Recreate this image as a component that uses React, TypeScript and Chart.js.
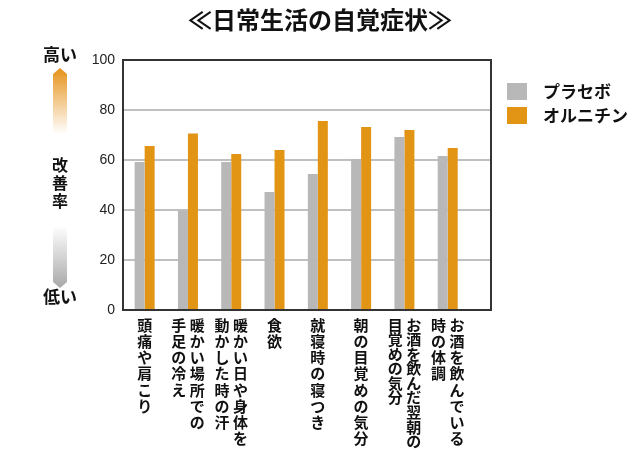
import React, { useEffect, useRef } from "react";
import { Chart, registerables } from "chart.js";

Chart.register(...registerables);

const TITLE = "≪日常生活の自覚症状≫";
const SERIES_NAMES = ["プラセボ", "オルニチン"];
// Each category label is a list of vertical columns, from right to left
const CATEGORIES: string[][] = [
  ["頭痛や肩こり"],
  ["暖かい場所での", "手足の冷え"],
  ["暖かい日や身体を", "動かした時の汗"],
  ["食欲"],
  ["就寝時の寝つき"],
  ["朝の目覚めの気分"],
  ["お酒を飲んだ翌朝の", "目覚めの気分"],
  ["お酒を飲んでいる", "時の体調"],
];
const PLACEBO = [59.2, 39.8, 59.2, 47.2, 54.4, 60.4, 69.2, 61.6];
const ORNITHINE = [65.6, 70.6, 62.4, 64.0, 75.6, 73.2, 72.0, 64.8];
const Y_TICKS = [0, 20, 40, 60, 80, 100];
const AXIS_HIGH = "高い";
const AXIS_LOW = "低い";
const AXIS_NAME = "改善率";

const GRAY = "#b8b8b8";
const ORANGE = "#e29415";
const JP = '"Noto Sans CJK JP", "Noto Sans", sans-serif';

const decorPlugin = {
  id: "decor",
  afterDatasetsDraw(chart: any) {
    const { ctx, chartArea } = chart;
    ctx.save();
    ctx.strokeStyle = "#333333";
    ctx.lineWidth = 2;
    ctx.strokeRect(
      chartArea.left,
      chartArea.top,
      chartArea.right - chartArea.left,
      chartArea.bottom - chartArea.top
    );
    ctx.restore();
  },
  afterDraw(chart: any) {
    const { ctx, chartArea } = chart;
    const xs = chart.scales.x;
    ctx.save();
    ctx.fillStyle = "#111111";
    ctx.textAlign = "center";
    ctx.textBaseline = "middle";

    // Title
    ctx.font = `bold 24px ${JP}`;
    ctx.fillText(TITLE, 320, 20);

    // Y-axis annotation
    const ax = 60;
    ctx.font = `bold 17px ${JP}`;
    ctx.fillText(AXIS_HIGH, ax, 55);
    ctx.fillText(AXIS_LOW, ax, 297);
    // orange arrow
    let g = ctx.createLinearGradient(0, 68, 0, 134);
    g.addColorStop(0, "#e6921a");
    g.addColorStop(1, "rgba(255,255,255,1)");
    ctx.fillStyle = g;
    ctx.beginPath();
    ctx.moveTo(ax, 68);
    ctx.lineTo(ax + 7, 74);
    ctx.lineTo(ax + 7, 134);
    ctx.lineTo(ax - 7, 134);
    ctx.lineTo(ax - 7, 74);
    ctx.closePath();
    ctx.fill();
    // gray arrow
    g = ctx.createLinearGradient(0, 226, 0, 288);
    g.addColorStop(0, "rgba(255,255,255,1)");
    g.addColorStop(1, "#a8a8a8");
    ctx.fillStyle = g;
    ctx.beginPath();
    ctx.moveTo(ax - 7, 226);
    ctx.lineTo(ax + 7, 226);
    ctx.lineTo(ax + 7, 282);
    ctx.lineTo(ax, 288);
    ctx.lineTo(ax - 7, 282);
    ctx.closePath();
    ctx.fill();
    ctx.fillStyle = "#111111";
    ctx.font = `bold 16px ${JP}`;
    Array.from(AXIS_NAME).forEach((ch, i) => ctx.fillText(ch, ax, 165 + i * 18));

    // Legend
    const colors = [GRAY, ORANGE];
    ctx.textAlign = "left";
    ctx.font = `bold 17px ${JP}`;
    SERIES_NAMES.forEach((name, i) => {
      const y = 83 + i * 24;
      ctx.fillStyle = colors[i];
      ctx.fillRect(507, y, 20, 17);
      ctx.fillStyle = "#111111";
      ctx.fillText(name, 543, y + 9);
    });

    // Vertical category labels
    ctx.textAlign = "center";
    ctx.font = `bold 15px ${JP}`;
    const top = chartArea.bottom + 15;
    const avail = 448 - (chartArea.bottom + 7);
    CATEGORIES.forEach((cols, i) => {
      const cx = xs.getPixelForValue(i);
      const maxLen = Math.max(...cols.map((c) => Array.from(c).length));
      const pitch = Math.min(16.2, avail / maxLen);
      const n = cols.length;
      cols.forEach((col, j) => {
        const x = cx + ((n - 1) / 2 - j) * 18.5;
        Array.from(col).forEach((ch, k) => {
          ctx.fillText(ch, x, top + k * pitch);
        });
      });
    });
    ctx.restore();
  },
};

export default function App() {
  const ref = useRef<HTMLCanvasElement | null>(null);
  useEffect(() => {
    if (!ref.current) return;
    const chart = new Chart(ref.current, {
      type: "bar",
      data: {
        datasets: [
          {
            label: SERIES_NAMES[0],
            data: PLACEBO.map((v, i) => ({ x: i, y: v })),
            backgroundColor: GRAY,
            categoryPercentage: 0.462,
            barPercentage: 1,
          },
          {
            label: SERIES_NAMES[1],
            data: ORNITHINE.map((v, i) => ({ x: i, y: v })),
            backgroundColor: ORANGE,
            categoryPercentage: 0.462,
            barPercentage: 1,
          },
        ],
      },
      options: {
        animation: false,
        responsive: true,
        maintainAspectRatio: false,
        layout: { padding: { top: 60, right: 149, left: 0, bottom: 0 } },
        plugins: { legend: { display: false }, tooltip: { enabled: false } },
        scales: {
          x: {
            type: "linear",
            min: -0.5,
            max: 8,
            offset: false,
            ticks: { display: false },
            grid: { display: false },
            border: { display: false },
            afterFit: (s: any) => {
              s.height = 140;
            },
          },
          y: {
            min: 0,
            max: 100,
            afterBuildTicks: (s: any) => {
              s.ticks = Y_TICKS.map((v) => ({ value: v }));
            },
            ticks: {
              color: "#222222",
              padding: 8,
              font: { family: '"Liberation Sans", Arial, sans-serif', size: 14 },
            },
            grid: { color: "#c0c0c0", lineWidth: 2, drawTicks: false },
            border: { display: false },
            afterFit: (s: any) => {
              s.width = 123;
            },
          },
        },
      },
      plugins: [decorPlugin],
    } as any);
    return () => chart.destroy();
  }, []);
  return (
    <div style={{ position: "fixed", left: 0, top: 0, width: 640, height: 450, background: "#fff" }}>
      <canvas ref={ref} />
    </div>
  );
}
